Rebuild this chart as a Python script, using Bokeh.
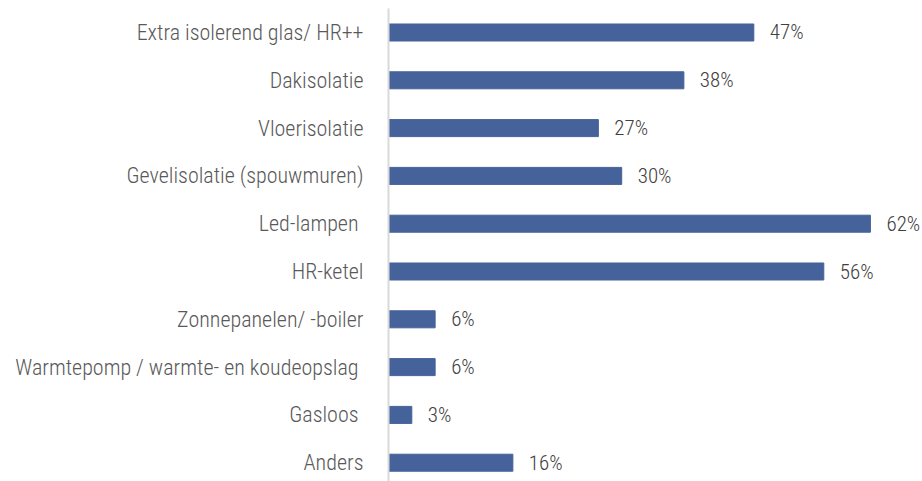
from bokeh.plotting import figure
from bokeh.models import Range1d, FixedTicker, ColumnDataSource
from bokeh.core.properties import value
from bokeh.embed import file_html
from bokeh.resources import INLINE

categories = [
    "Extra isolerend glas/ HR++",
    "Dakisolatie",
    "Vloerisolatie",
    "Gevelisolatie (spouwmuren)",
    "Led-lampen ",
    "HR-ketel",
    "Zonnepanelen/ -boiler",
    "Warmtepomp / warmte- en koudeopslag ",
    "Gasloos ",
    "Anders",
]
values = [47, 38, 27, 30, 62, 56, 6, 6, 3, 16]
labels = [f"{v}%" for v in values]

FONT = "Roboto Condensed Light, Roboto Condensed"
pos = list(range(len(categories)))

src = ColumnDataSource(dict(y=pos, v=values, lab=labels))

p = figure(width=922, height=481, output_backend="svg", toolbar_location=None,
           x_range=Range1d(0, 68.7), y_range=Range1d(9.393, -0.502),
           min_border_left=388, min_border_right=0, min_border_top=8, min_border_bottom=0)
p.hbar(y="y", left=0, right="v", height=0.356, color="#46629a", source=src)
p.text(x="v", y="y", text="lab", x_offset=16, text_baseline="middle", text_align="left",
       text_font=value(FONT), text_font_size="21px", text_color="#404040", source=src)

p.xaxis.visible = False
p.xgrid.visible = False
p.ygrid.visible = False
p.outline_line_color = None

ya = p.yaxis[0]
ya.ticker = FixedTicker(ticks=pos)
ya.major_label_overrides = {i: c for i, c in zip(pos, categories)}
ya.major_tick_line_color = None
ya.minor_tick_line_color = None
ya.major_tick_out = 0
ya.major_tick_in = 0
ya.major_label_standoff = 25
ya.axis_line_color = "#d9d9d9"
ya.axis_line_width = 2
ya.major_label_text_font = FONT
ya.major_label_text_font_size = "22px"
ya.major_label_text_color = "#595959"

open("out.html", "w").write(file_html(p, INLINE))
